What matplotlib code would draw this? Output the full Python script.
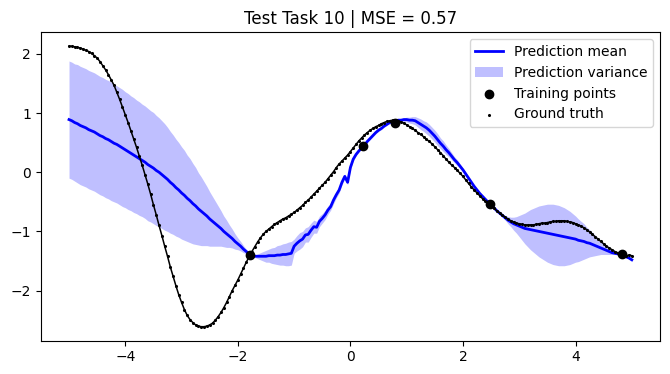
import numpy as np
import matplotlib
matplotlib.use("Agg")
import matplotlib.pyplot as plt

# test grid, step 0.05 from -5 to 5
x_grid = np.linspace(-5, 5, 201)

ground_truth = [
    2.13, 2.13, 2.12, 2.11, 2.10, 2.08, 2.06, 2.04, 2.01, 1.97,
    1.93, 1.87, 1.80, 1.73, 1.65, 1.56, 1.47, 1.35, 1.23, 1.10,
    0.97, 0.84, 0.70, 0.56, 0.42, 0.27, 0.12, -0.04, -0.20, -0.37,
    -0.55, -0.72, -0.90, -1.07, -1.25, -1.42, -1.60, -1.76, -1.92, -2.07,
    -2.20, -2.32, -2.42, -2.49, -2.54, -2.58, -2.60, -2.61, -2.61, -2.60,
    -2.58, -2.55, -2.50, -2.44, -2.37, -2.29, -2.20, -2.10, -2.00, -1.91,
    -1.82, -1.72, -1.62, -1.52, -1.43, -1.34, -1.26, -1.18, -1.11, -1.05,
    -1.00, -0.96, -0.92, -0.88, -0.85, -0.82, -0.79, -0.77, -0.74, -0.71,
    -0.68, -0.64, -0.60, -0.56, -0.51, -0.47, -0.42, -0.37, -0.32, -0.27,
    -0.22, -0.17, -0.11, -0.05, 0.01, 0.08, 0.14, 0.19, 0.24, 0.29,
    0.35, 0.41, 0.47, 0.53, 0.58, 0.63, 0.67, 0.71, 0.74, 0.77,
    0.79, 0.82, 0.84, 0.86, 0.87, 0.88, 0.88, 0.87, 0.85, 0.83,
    0.80, 0.77, 0.74, 0.71, 0.67, 0.64, 0.60, 0.56, 0.52, 0.48,
    0.43, 0.38, 0.33, 0.28, 0.22, 0.17, 0.12, 0.08, 0.03, -0.02,
    -0.07, -0.13, -0.19, -0.25, -0.30, -0.35, -0.40, -0.45, -0.49, -0.53,
    -0.57, -0.61, -0.65, -0.69, -0.72, -0.76, -0.79, -0.82, -0.84, -0.86,
    -0.87, -0.88, -0.89, -0.89, -0.89, -0.89, -0.88, -0.87, -0.86, -0.86,
    -0.85, -0.84, -0.83, -0.83, -0.82, -0.82, -0.82, -0.83, -0.84, -0.85,
    -0.87, -0.89, -0.91, -0.94, -0.97, -1.01, -1.05, -1.09, -1.13, -1.17,
    -1.21, -1.25, -1.28, -1.31, -1.34, -1.36, -1.38, -1.40, -1.41, -1.40,
    -1.41,
]

pred_mean = [
    0.89, 0.87, 0.84, 0.82, 0.79, 0.77, 0.75, 0.72, 0.70, 0.68,
    0.65, 0.62, 0.60, 0.57, 0.55, 0.52, 0.49, 0.47, 0.44, 0.41,
    0.38, 0.35, 0.32, 0.29, 0.26, 0.23, 0.20, 0.17, 0.13, 0.10,
    0.07, 0.03, 0.00, -0.04, -0.08, -0.12, -0.17, -0.21, -0.26, -0.30,
    -0.35, -0.39, -0.44, -0.48, -0.53, -0.57, -0.62, -0.66, -0.70, -0.74,
    -0.79, -0.83, -0.87, -0.91, -0.95, -1.00, -1.04, -1.08, -1.12, -1.17,
    -1.21, -1.25, -1.30, -1.34, -1.38, -1.41, -1.42, -1.42, -1.42, -1.42,
    -1.42, -1.41, -1.41, -1.41, -1.40, -1.40, -1.39, -1.39, -1.38, -1.37,
    -1.25, -1.20, -1.16, -1.13, -1.06, -1.05, -0.98, -0.92, -0.93, -0.83,
    -0.78, -0.72, -0.64, -0.58, -0.47, -0.38, -0.30, -0.17, -0.07, -0.17,
    0.08, 0.22, 0.30, 0.36, 0.41, 0.46, 0.52, 0.57, 0.62, 0.67,
    0.71, 0.74, 0.78, 0.81, 0.84, 0.86, 0.87, 0.88, 0.88, 0.89,
    0.89, 0.88, 0.88, 0.87, 0.84, 0.81, 0.78, 0.75, 0.71, 0.66,
    0.61, 0.55, 0.49, 0.44, 0.38, 0.33, 0.27, 0.21, 0.16, 0.10,
    0.04, -0.03, -0.10, -0.17, -0.24, -0.30, -0.36, -0.41, -0.46, -0.51,
    -0.55, -0.60, -0.65, -0.69, -0.73, -0.77, -0.81, -0.84, -0.87, -0.89,
    -0.91, -0.93, -0.95, -0.96, -0.97, -0.98, -0.99, -1.00, -1.01, -1.02,
    -1.03, -1.04, -1.05, -1.06, -1.07, -1.08, -1.09, -1.10, -1.11, -1.12,
    -1.13, -1.15, -1.16, -1.17, -1.19, -1.20, -1.22, -1.24, -1.26, -1.28,
    -1.30, -1.32, -1.34, -1.36, -1.37, -1.38, -1.39, -1.41, -1.43, -1.45,
    -1.48,
]

pred_std = [
    0.99, 0.99, 0.99, 1.00, 1.00, 1.00, 1.00, 1.00, 1.00, 1.00,
    1.00, 1.00, 1.00, 1.00, 1.00, 1.00, 0.99, 0.99, 0.99, 0.99,
    0.98, 0.98, 0.97, 0.97, 0.96, 0.96, 0.95, 0.95, 0.95, 0.94,
    0.94, 0.93, 0.92, 0.91, 0.90, 0.88, 0.86, 0.84, 0.82, 0.80,
    0.78, 0.76, 0.73, 0.71, 0.68, 0.65, 0.61, 0.58, 0.54, 0.50,
    0.46, 0.42, 0.38, 0.34, 0.30, 0.26, 0.23, 0.19, 0.16, 0.13,
    0.10, 0.08, 0.06, 0.04, 0.02, 0.01, 0.02, 0.04, 0.06, 0.08,
    0.10, 0.11, 0.13, 0.14, 0.16, 0.17, 0.18, 0.19, 0.20, 0.20,
    0.12, 0.13, 0.14, 0.13, 0.12, 0.13, 0.12, 0.11, 0.10, 0.09,
    0.08, 0.08, 0.07, 0.06, 0.06, 0.05, 0.05, 0.04, 0.04, 0.04,
    0.03, 0.03, 0.02, 0.02, 0.01, 0.01, 0.01, 0.02, 0.02, 0.02,
    0.02, 0.02, 0.02, 0.02, 0.01, 0.01, 0.01, 0.01, 0.02, 0.03,
    0.04, 0.05, 0.06, 0.07, 0.08, 0.09, 0.09, 0.10, 0.10, 0.10,
    0.10, 0.10, 0.09, 0.09, 0.08, 0.07, 0.06, 0.05, 0.05, 0.04,
    0.03, 0.03, 0.02, 0.02, 0.01, 0.01, 0.01, 0.01, 0.00, 0.00,
    0.00, 0.01, 0.01, 0.01, 0.02, 0.04, 0.06, 0.08, 0.11, 0.14,
    0.18, 0.22, 0.26, 0.30, 0.34, 0.37, 0.40, 0.43, 0.45, 0.47,
    0.49, 0.50, 0.51, 0.51, 0.51, 0.50, 0.49, 0.47, 0.45, 0.42,
    0.39, 0.36, 0.33, 0.30, 0.26, 0.23, 0.20, 0.17, 0.14, 0.11,
    0.09, 0.07, 0.05, 0.03, 0.02, 0.01, 0.00, 0.01, 0.01, 0.02,
    0.02,
]

train_x = [-1.78, 0.23, 0.80, 2.48, 4.82]
train_y = [-1.40, 0.45, 0.83, -0.53, -1.38]

mse = 0.57
task = 10

mean = np.array(pred_mean)
std = np.array(pred_std)

fig, ax = plt.subplots(figsize=(6.7, 3.74), dpi=100)
fig.subplots_adjust(left=0.061, right=0.985, top=0.914, bottom=0.089)

ax.plot(x_grid, mean, 'b', lw=2, label='Prediction mean')
ax.fill_between(x_grid, mean - std, mean + std, color='b', alpha=0.25,
                lw=0, label='Prediction variance')
ax.scatter(train_x, train_y, c='k', zorder=4, label='Training points')
# dense sampled truth: thin line under the dots so it reads as one curve
ax.plot(x_grid, ground_truth, color='k', lw=1.1, zorder=3)
ax.scatter(x_grid, ground_truth, c='k', s=1.5, zorder=3, label='Ground truth')

ax.set_title(f'Test Task {task} | MSE = {mse:.2f}')
ax.legend(loc='upper right')

fig.savefig('out.png', dpi=100)
